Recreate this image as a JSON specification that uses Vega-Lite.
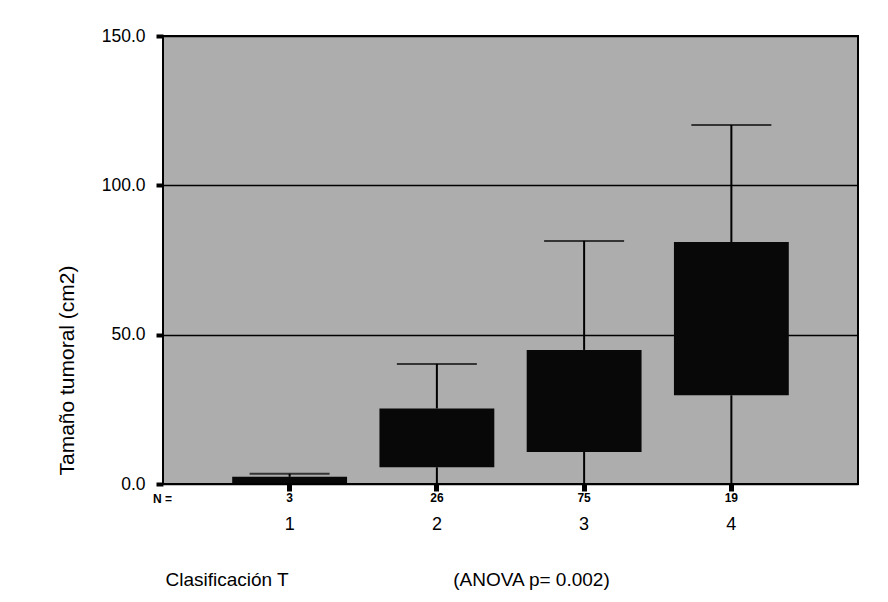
{
  "$schema": "https://vega.github.io/schema/vega-lite/v6.json",
  "width": 695,
  "height": 448,
  "autosize": {"type": "none"},
  "padding": {"left": 163, "top": 36, "right": 30, "bottom": 118},
  "background": "white",
  "config": {
    "font": "Liberation Sans",
    "view": {"fill": "#adadad", "stroke": "black", "strokeWidth": 2},
    "axis": {"labelColor": "black", "titleColor": "black", "titleFontWeight": "normal", "tickColor": "black", "tickOpacity": 1}
  },
  "data": {
    "values": [
      {"T": "1", "n": 3, "min": 0, "q1": 0.3, "q3": 2.4, "max": 3.4},
      {"T": "2", "n": 26, "min": 0, "q1": 5.6, "q3": 25.3, "max": 40.2},
      {"T": "3", "n": 75, "min": 0, "q1": 10.7, "q3": 44.9, "max": 81.4},
      {"T": "4", "n": 19, "min": 0, "q1": 29.7, "q3": 81, "max": 120.2}
    ]
  },
  "layer": [
    {
      "mark": {"type": "bar", "color": "#080808", "width": {"band": 0.78}},
      "encoding": {
        "x": {
          "field": "T", "type": "ordinal",
          "scale": {"paddingInner": 0, "paddingOuter": 0.36},
          "axis": {
            "orient": "bottom", "labelAngle": 0, "labelFontSize": 18, "labelBaseline": "alphabetic",
            "labelPadding": 38, "ticks": true, "tickSize": 7, "tickWidth": 5, "tickColor": "black", "domain": false,
            "title": "Clasificación T", "titleFontSize": 19,
            "titleX": 2, "titleY": 101, "titleAlign": "left", "titleBaseline": "alphabetic"
          }
        },
        "y": {
          "field": "q1", "type": "quantitative",
          "scale": {"domain": [0, 150], "nice": false},
          "axis": {
            "orient": "left",
            "values": [0, 50, 100, 150], "format": ".1f", "labelFontSize": 17.5, "labelPadding": 11,
            "ticks": true, "tickSize": 7, "tickWidth": 4, "tickColor": "black", "domain": false,
            "grid": true, "gridColor": "black", "gridWidth": 1.5, "gridOpacity": 1,
            "title": "Tamaño tumoral (cm2)", "titleFontSize": 21,
            "titleX": -96, "titleY": 334, "titleAngle": -90, "titleAlign": "center", "titleBaseline": "middle"
          }
        },
        "y2": {"field": "q3"}
      }
    },
    {
      "mark": {"type": "rule", "color": "black", "strokeWidth": 2},
      "encoding": {
        "x": {
          "field": "T", "type": "ordinal",
          "axis": {
            "orient": "bottom", "labels": false, "ticks": false, "domain": false,
            "title": "(ANOVA p= 0.002)", "titleFontSize": 19,
            "titleX": 368, "titleY": 101, "titleAlign": "center", "titleBaseline": "alphabetic"
          }
        },
        "y": {"field": "min", "type": "quantitative", "scale": {"domain": [0, 150], "nice": false}, "axis": null},
        "y2": {"field": "q1"}
      }
    },
    {
      "mark": {"type": "rule", "color": "black", "strokeWidth": 2},
      "encoding": {
        "x": {"field": "T", "type": "ordinal", "axis": null},
        "y": {"field": "q3", "type": "quantitative", "scale": {"domain": [0, 150], "nice": false}, "axis": null},
        "y2": {"field": "max"}
      }
    },
    {
      "mark": {"type": "tick", "color": "black", "size": 80, "thickness": 2, "orient": "horizontal"},
      "encoding": {
        "x": {"field": "T", "type": "ordinal", "axis": null},
        "y": {"field": "max", "type": "quantitative", "scale": {"domain": [0, 150], "nice": false}, "axis": null}
      }
    },
    {
      "mark": {"type": "text", "color": "black", "fontSize": 12, "fontWeight": "bold", "baseline": "alphabetic", "dy": 18},
      "encoding": {
        "x": {
          "field": "T", "type": "ordinal",
          "axis": {
            "orient": "bottom", "labels": false, "ticks": false, "domain": false,
            "title": "N =", "titleFontSize": 12, "titleFontWeight": "bold",
            "titleX": -1, "titleY": 18, "titleAlign": "center", "titleBaseline": "alphabetic"
          }
        },
        "y": {"datum": 0, "type": "quantitative", "scale": {"domain": [0, 150], "nice": false}, "axis": null},
        "text": {"field": "n", "type": "quantitative"}
      }
    }
  ],
  "resolve": {"axis": {"x": "independent", "y": "independent"}}
}
